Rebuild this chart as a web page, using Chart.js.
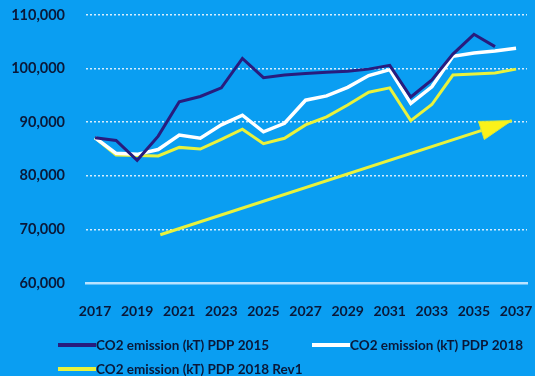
<!DOCTYPE html>
<html>
<head>
<meta charset="utf-8">
<script src="https://cdn.jsdelivr.net/npm/chart.js@4.4.1/dist/chart.umd.min.js"></script>
<style>
  html, body { margin: 0; padding: 0; background: #0a9ef2; }
  #wrap { width: 535px; height: 376px; }
</style>
</head>
<body>
<div id="wrap"><canvas id="c" width="535" height="376"></canvas></div>
<script>
// Years on the horizontal axis
const years = [2017, 2018, 2019, 2020, 2021, 2022, 2023, 2024, 2025, 2026, 2027,
               2028, 2029, 2030, 2031, 2032, 2033, 2034, 2035, 2036, 2037];
const tickYears = [2017, 2019, 2021, 2023, 2025, 2027, 2029, 2031, 2033, 2035, 2037];
const yTicks = [60000, 70000, 80000, 90000, 100000, 110000];

// CO2 emission (kT) by plan version
const pdp2015 = [87100, 86600, 82900, 87400, 93800, 94800, 96400, 101900, 98300, 98800, 99100,
                 99300, 99500, 99900, 100600, 94700, 97900, 102700, 106400, 104100, null];
const pdp2018 = [87100, 84200, 84000, 84900, 87600, 87000, 89500, 91300, 88200, 89800, 94100,
                 94900, 96500, 98700, 99800, 93500, 96600, 102300, 102900, 103300, 103800];
const pdp2018Rev1 = [87100, 83900, 83800, 83700, 85300, 85000, 86800, 88700, 86000, 87000, 89500,
                     91000, 93200, 95600, 96400, 90300, 93300, 98800, 99000, 99200, 99900];

// Trend arrow (start and tip)
const trendX = [2020.1, 2036.8];
const trendY = [69000, 90300];

const seriesLabels = ['CO2 emission (kT) PDP 2015', 'CO2 emission (kT) PDP 2018', 'CO2 emission (kT) PDP 2018 Rev1'];
const seriesColors = ['#281c7e', '#ffffff', '#e9f23c'];

const toPoints = (xs, ys) => xs.map((x, i) => ({ x: x, y: ys[i] }));

const TEXT = '#0a1838';
const FONT = 'Lato, "DejaVu Sans", sans-serif';

// Arrowhead at the end of the trend line
const arrowHead = {
  id: 'arrowHead',
  afterDatasetsDraw(chart) {
    const meta = chart.getDatasetMeta(3);
    if (!meta || !meta.data || meta.data.length < 2) return;
    const a = meta.data[0], b = meta.data[meta.data.length - 1];
    const ang = Math.atan2(b.y - a.y, b.x - a.x);
    const len = 32, half = 9.5;
    const bx = b.x - len * Math.cos(ang), by = b.y - len * Math.sin(ang);
    const ctx = chart.ctx;
    ctx.save();
    ctx.beginPath();
    ctx.moveTo(b.x, b.y);
    ctx.lineTo(bx + half * Math.sin(ang), by - half * Math.cos(ang));
    ctx.lineTo(bx - half * Math.sin(ang), by + half * Math.cos(ang));
    ctx.closePath();
    ctx.fillStyle = '#fbf21a';
    ctx.fill();
    ctx.lineWidth = 1;
    ctx.strokeStyle = '#d6e83a';
    ctx.stroke();
    ctx.restore();
  }
};

// Legend drawn below the axis: two items on the first row, one on the second
const legendRows = {
  id: 'legendRows',
  afterDraw(chart) {
    const ctx = chart.ctx;
    const slots = [
      { x: 58, y: 345 },
      { x: 312, y: 345 },
      { x: 58, y: 369 }
    ];
    ctx.save();
    ctx.font = 'bold 13.5px ' + FONT;
    ctx.textBaseline = 'middle';
    slots.forEach((s, i) => {
      ctx.fillStyle = seriesColors[i];
      ctx.fillRect(s.x, s.y - 2, 38, 4);
      ctx.fillStyle = TEXT;
      ctx.fillText(seriesLabels[i], s.x + 38, s.y + 1);
    });
    ctx.restore();
  }
};

new Chart(document.getElementById('c'), {
  type: 'line',
  data: {
    datasets: [
      { label: seriesLabels[0], data: toPoints(years, pdp2015), borderColor: seriesColors[0],
        borderWidth: 3, pointRadius: 0, tension: 0, spanGaps: false },
      { label: seriesLabels[1], data: toPoints(years, pdp2018), borderColor: seriesColors[1],
        borderWidth: 3.5, pointRadius: 0, tension: 0 },
      { label: seriesLabels[2], data: toPoints(years, pdp2018Rev1), borderColor: seriesColors[2],
        borderWidth: 3, pointRadius: 0, tension: 0 },
      { label: 'trend', data: toPoints(trendX, trendY), borderColor: '#e9f23c',
        borderWidth: 3, pointRadius: 0, tension: 0 }
    ]
  },
  options: {
    responsive: false,
    animation: false,
    layout: { padding: { top: 15, right: 8, left: 0, bottom: 48 } },
    plugins: {
      legend: { display: false },
      tooltip: { enabled: false }
    },
    scales: {
      x: {
        type: 'linear',
        min: 2016.57,
        max: 2037.52,
        afterBuildTicks(scale) { scale.ticks = tickYears.map(v => ({ value: v })); },
        afterFit(scale) {
          scale.height = 45;
          scale.paddingLeft = 0; scale.paddingRight = 0;
          scale.paddingTop = 0; scale.paddingBottom = 0;
        },
        grid: { display: false, drawTicks: false },
        border: { display: true, color: '#b9e3ff', width: 2.5 },
        ticks: {
          autoSkip: false,
          maxRotation: 0,
          padding: 20,
          color: TEXT,
          font: { family: FONT, size: 14, weight: 'bold' },
          callback: v => String(v)
        }
      },
      y: {
        min: 60000,
        max: 110000,
        afterBuildTicks(scale) { scale.ticks = yTicks.map(v => ({ value: v })); },
        afterFit(scale) {
          scale.width = 86;
          scale.paddingTop = 0; scale.paddingBottom = 0;
          scale.paddingLeft = 0; scale.paddingRight = 0;
        },
        grid: {
          drawTicks: false,
          lineWidth: 1.5,
          color: ctx => (ctx.tick && ctx.tick.value === 60000) ? 'rgba(0,0,0,0)' : 'rgba(235,245,255,0.9)',
          borderDash: [2, 2]
        },
        border: { display: false, dash: [2, 2] },
        ticks: {
          padding: 21,
          color: TEXT,
          font: { family: FONT, size: 14.5, weight: 'bold' },
          callback: v => v.toLocaleString('en-US')
        }
      }
    }
  },
  plugins: [arrowHead, legendRows]
});
</script>
</body>
</html>
